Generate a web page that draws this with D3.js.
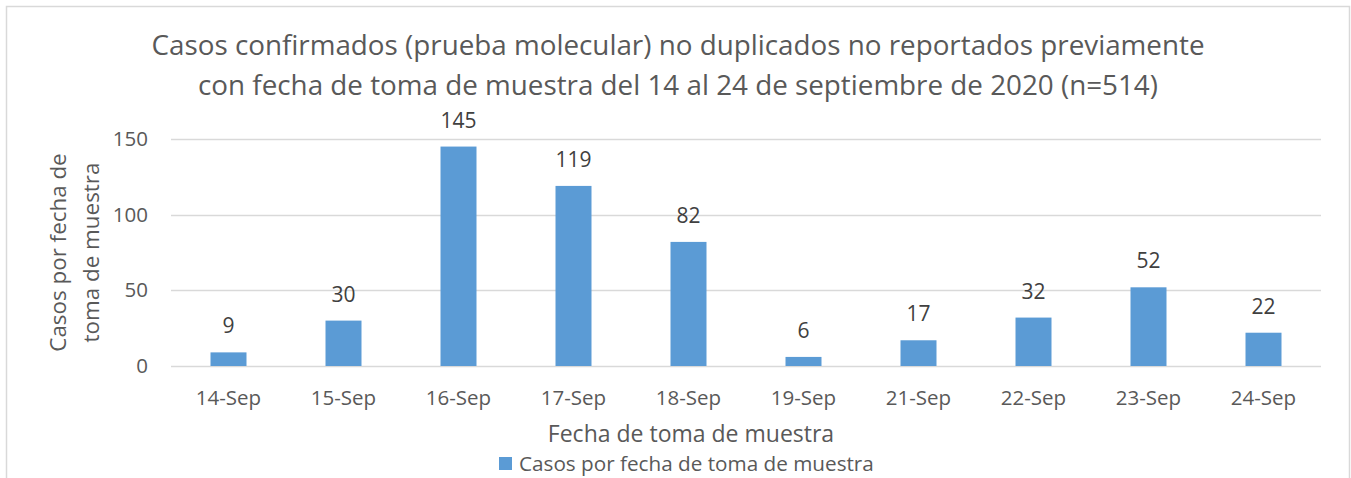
<!DOCTYPE html>
<html>
<head>
<meta charset="utf-8">
<script src="https://cdn.jsdelivr.net/npm/d3@7"></script>
<style>
  body { margin: 0; background: #fff; }
  svg { display: block; font-family: "Open Sans", sans-serif; }
</style>
</head>
<body>
<svg id="chart" width="1351" height="478"></svg>
<script>
const fechas = ["14-Sep", "15-Sep", "16-Sep", "17-Sep", "18-Sep", "19-Sep", "21-Sep", "22-Sep", "23-Sep", "24-Sep"],
  casos = [9, 30, 145, 119, 82, 6, 17, 32, 52, 22],
  yTicks = [0, 50, 100, 150];

const titleLines = [
  "Casos confirmados (prueba molecular) no duplicados no reportados previamente",
  "con fecha de toma de muestra del 14 al 24 de septiembre de 2020 (n=514)"
];
const serieName = "Casos por fecha de toma de muestra";

const textColor = "#595959",
  barColor = "#5B9BD5",
  gridColor = "#D9D9D9";

const margin = { left: 171, right: 30, top: 139, bottom: 112 };

const svg = d3.select("#chart");
const width = +svg.attr("width"),
  height = +svg.attr("height");

// chart frame
svg.append("rect")
  .attr("x", 6.5).attr("y", 6.5)
  .attr("width", 1343).attr("height", 480)
  .attr("fill", "#fff")
  .attr("stroke", gridColor)
  .attr("stroke-width", 1.5);

const x = d3.scaleBand()
  .domain(fechas)
  .range([margin.left, width - margin.right])
  .paddingInner(0.687)
  .paddingOuter(0.3435);

const y = d3.scaleLinear()
  .domain([0, 150])
  .range([height - margin.bottom, margin.top]);

// gridlines
svg.append("g")
  .selectAll("line")
  .data(yTicks)
  .enter()
  .append("line")
  .attr("x1", margin.left)
  .attr("x2", width - margin.right)
  .attr("y1", d => Math.round(y(d)) + 0.5)
  .attr("y2", d => Math.round(y(d)) + 0.5)
  .attr("stroke", gridColor)
  .attr("stroke-width", 1.5);

// y tick labels
svg.append("g")
  .selectAll("text")
  .data(yTicks)
  .enter()
  .append("text")
  .attr("x", 148)
  .attr("y", d => y(d) + 7)
  .attr("text-anchor", "end")
  .attr("fill", textColor)
  .style("font-size", "20.5px")
  .text(d => d);

// bars
svg.append("g")
  .selectAll("rect")
  .data(casos)
  .enter()
  .append("rect")
  .attr("x", (d, i) => x(fechas[i]))
  .attr("y", d => y(d))
  .attr("width", x.bandwidth())
  .attr("height", d => y(0) - y(d))
  .attr("fill", barColor);

// data labels
svg.append("g")
  .selectAll("text")
  .data(casos)
  .enter()
  .append("text")
  .attr("x", (d, i) => x(fechas[i]) + x.bandwidth() / 2)
  .attr("y", d => y(d) - 19)
  .attr("text-anchor", "middle")
  .attr("fill", "#404040")
  .style("font-size", "21px")
  .text(d => d);

// x axis labels
svg.append("g")
  .selectAll("text")
  .data(fechas)
  .enter()
  .append("text")
  .attr("x", d => x(d) + x.bandwidth() / 2)
  .attr("y", 405)
  .attr("text-anchor", "middle")
  .attr("fill", textColor)
  .style("font-size", "20.5px")
  .text(d => d);

// title
svg.append("g")
  .selectAll("text")
  .data(titleLines)
  .enter()
  .append("text")
  .attr("x", 678)
  .attr("y", (d, i) => 55 + i * 40)
  .attr("text-anchor", "middle")
  .attr("fill", textColor)
  .style("font-size", "27.8px")
  .text(d => d);

// y axis title
const yTitle = svg.append("text")
  .attr("transform", `translate(0,${(y(0) + y(150)) / 2}) rotate(-90)`)
  .attr("text-anchor", "middle")
  .attr("fill", textColor)
  .style("font-size", "22.4px");
yTitle.append("tspan").attr("x", 0).attr("y", 66).text("Casos por fecha de");
yTitle.append("tspan").attr("x", 0).attr("y", 99).text("toma de muestra");

// x axis title
svg.append("text")
  .attr("x", 691)
  .attr("y", 442)
  .attr("text-anchor", "middle")
  .attr("fill", textColor)
  .style("font-size", "23px")
  .text("Fecha de toma de muestra");

// legend
const legend = svg.append("g").attr("transform", "translate(499,457)");
legend.append("rect")
  .attr("width", 13).attr("height", 13)
  .attr("fill", barColor);
legend.append("text")
  .attr("x", 20)
  .attr("y", 14)
  .attr("fill", textColor)
  .style("font-size", "20.7px")
  .text(serieName);
</script>
</body>
</html>
